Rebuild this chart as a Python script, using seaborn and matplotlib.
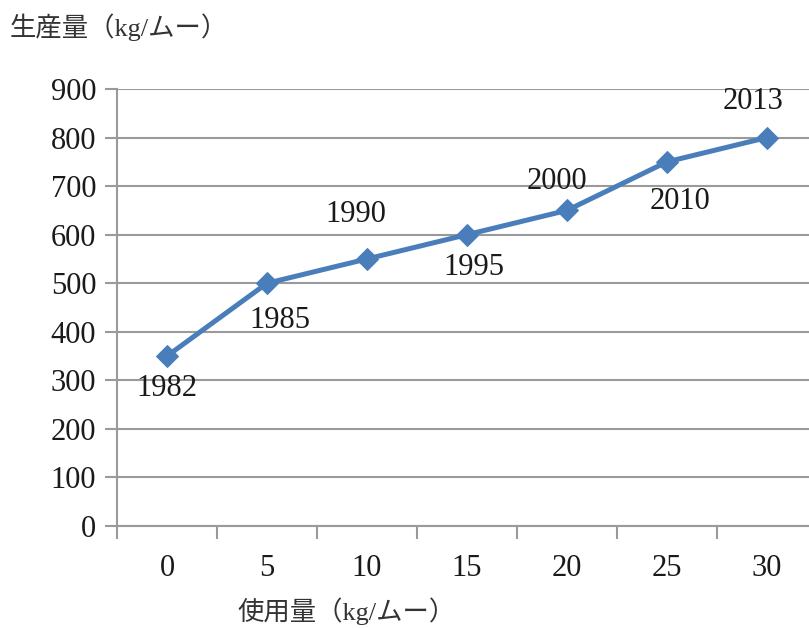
import numpy as np
import seaborn as sns
import matplotlib.pyplot as plt

sns.set_style("white")
plt.rcParams['font.family'] = ['Liberation Serif', 'Noto Sans CJK JP']

usage = ["0", "5", "10", "15", "20", "25", "30"]
production = [350, 500, 550, 600, 650, 750, 800]
years = ["1982", "1985", "1990", "1995", "2000", "2010", "2013"]
# label offsets in pixels (dx, dy) relative to each point
offsets = [(0, -32), (13, -37), (-11, 44), (7, -33), (-10, 29), (13, -40), (-14, 36)]

fig = plt.figure(figsize=(8.09, 6.28), dpi=100)
ax = fig.add_axes([117 / 809, 102 / 628, 692 / 809, 437 / 628])

pos = np.arange(len(usage))
sns.lineplot(x=pos, y=production, ax=ax, color="#4a7ebb", linewidth=3.6,
             marker="D", markersize=11, markeredgecolor="#4a7ebb")

for x, y, yr, (dx, dy) in zip(pos, production, years, offsets):
    ax.annotate(yr, (x, y), xytext=(dx, dy), textcoords="offset pixels",
                ha="center", va="center", fontsize=22, color="#1a1a1a")

grid_c = "#9a9a9a"
ax.set_yticks(range(0, 901, 100))
ax.yaxis.grid(True, color=grid_c, linewidth=1.5)
ax.set_xticks(np.arange(-0.5, len(usage)), labels=[])
ax.set_xticks(pos, labels=usage, minor=True)
ax.set_xlim(-0.5, -0.5 + 692 / 100)
ax.set_ylim(0, 900)
ax.tick_params(axis="x", which="major", bottom=True, direction="out", length=9, width=1.5, color=grid_c)
ax.tick_params(axis="x", which="minor", bottom=True, length=0, pad=20, labelsize=22, labelcolor="#1a1a1a")
ax.tick_params(axis="y", left=True, direction="out", length=9, width=1.5, color=grid_c,
               labelsize=22, labelcolor="#1a1a1a", pad=6)
for s in ["top", "right"]:
    ax.spines[s].set_visible(False)
for s in ["left", "bottom"]:
    ax.spines[s].set_color(grid_c)
    ax.spines[s].set_linewidth(1.5)

fig.text(10 / 809, 1 - 27 / 628, "生産量（kg/ムー）", fontsize=19, ha="left", va="center", color="#333333")
fig.text(237 / 809, 1 - 611 / 628, "使用量（kg/ムー）", fontsize=19, ha="left", va="center", color="#333333")

fig.savefig("out.png", dpi=100)
